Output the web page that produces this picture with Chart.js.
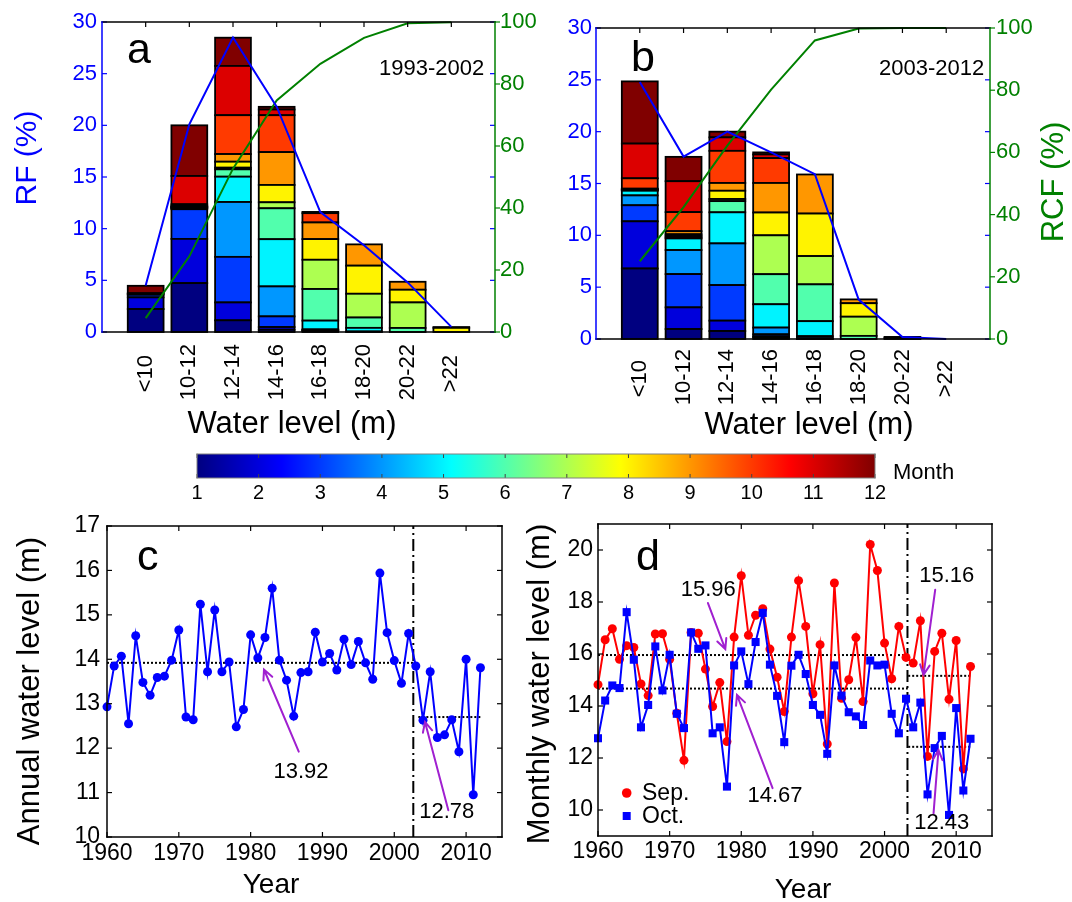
<!DOCTYPE html>
<html><head><meta charset="utf-8">
<script src="https://cdn.jsdelivr.net/npm/chart.js@4.4.1/dist/chart.umd.min.js"></script>
<style>
html,body{margin:0;padding:0;background:#fff;}
body{width:1072px;height:902px;position:relative;overflow:hidden;}
canvas{position:absolute;}
</style></head><body>
<canvas id="cA" width="548" height="450" style="left:0px;top:0px"></canvas>
<canvas id="cB" width="524" height="450" style="left:548px;top:0px"></canvas>
<canvas id="cC" width="515" height="397" style="left:0px;top:505px"></canvas>
<canvas id="cD" width="557" height="397" style="left:515px;top:505px"></canvas>
<canvas id="cCB" width="830" height="70" style="left:150px;top:440px"></canvas>
<script>
// ================= DATA =================
const waterBins = ['<10','10-12','12-14','14-16','16-18','18-20','20-22','>22'];
const rfTicks = [0,5,10,15,20,25,30];
const rcfTicks = [0,20,40,60,80,100];
const monthTicks = [1,2,3,4,5,6,7,8,9,10,11,12];
const monthRange = [1,12];

// Panel a: 1993-2002, RF (%) contribution of each month per water-level bin
const aJan = [2.22, 4.73, 1.13, 0.22, 0.10, 0,    0,    0];
const aFeb = [1.13, 4.28, 1.73, 0.26, 0.05, 0,    0,    0];
const aMar = [0.25, 2.87, 4.41, 1.03, 0.05, 0,    0,    0];
const aApr = [0.10, 0.08, 5.31, 2.90, 0.05, 0.05, 0,    0];
const aMay = [0,    0.05, 2.45, 4.57, 0.85, 0.35, 0,    0];
const aJun = [0,    0.05, 0.71, 2.99, 3.06, 1.00, 0.39, 0];
const aJul = [0,    0.05, 0.16, 0.58, 2.83, 2.30, 2.47, 0];
const aAug = [0,    0.05, 0.58, 1.68, 2.00, 2.72, 1.23, 0.40];
const aSep = [0,    0.05, 0.74, 3.18, 1.61, 2.06, 0.77, 0.08];
const aOct = [0,    0.15, 3.76, 3.57, 0.90, 0,    0,    0];
const aNov = [0.05, 2.74, 4.77, 0.55, 0.12, 0,    0,    0];
const aDec = [0.72, 4.90, 2.73, 0.26, 0,    0,    0,    0];
const rfA  = [4.5, 20.1, 28.5, 21.8, 11.6, 8.4, 4.8, 0.5];
const rcfA = [4.5, 24.4, 52.7, 74.7, 86.5, 94.9, 99.6, 99.9];

// Panel b: 2003-2012
const bJan = [6.80, 0.96, 0.77, 0.15, 0.02, 0,    0,    0];
const bFeb = [4.55, 2.09, 1.00, 0.10, 0,    0,    0,    0];
const bMar = [1.55, 3.21, 3.43, 0.20, 0.05, 0,    0,    0];
const bApr = [0.95, 2.32, 4.02, 0.65, 0.20, 0,    0,    0];
const bMay = [0.45, 1.12, 3.00, 2.25, 1.45, 0,    0,    0];
const bJun = [0.05, 0.10, 1.08, 2.90, 3.55, 0.30, 0,    0];
const bJul = [0.05, 0.15, 0.20, 3.75, 2.73, 1.85, 0,    0];
const bAug = [0.05, 0.15, 0.80, 2.20, 4.10, 1.30, 0.10, 0];
const bSep = [0.05, 0.30, 0.75, 2.85, 3.77, 0.37, 0.10, 0];
const bOct = [1.00, 1.84, 3.10, 2.40, 0,    0,    0,    0];
const bNov = [3.35, 2.98, 1.30, 0.35, 0,    0,    0,    0];
const bDec = [6.00, 2.35, 0.55, 0.20, 0,    0,    0,    0];
const rfB  = [24.8, 17.6, 20.0, 18.0, 15.9, 3.8, 0.2, 0.0];
const rcfB = [25.0, 42.4, 62.2, 80.2, 96.0, 99.8, 100, 100];

// Panels c, d
const years = [1960,1961,1962,1963,1964,1965,1966,1967,1968,1969,
               1970,1971,1972,1973,1974,1975,1976,1977,1978,1979,
               1980,1981,1982,1983,1984,1985,1986,1987,1988,1989,
               1990,1991,1992,1993,1994,1995,1996,1997,1998,1999,
               2000,2001,2002,2003,2004,2005,2006,2007,2008,2009,
               2010,2011,2012];
const annualLevel = [12.93,13.85,14.07,12.55,14.53,13.48,13.19,13.59,13.62,13.98,
                     14.66,12.70,12.64,15.24,13.72,15.11,13.72,13.94,12.48,12.87,
                     14.55,14.03,14.49,15.60,13.98,13.53,12.72,13.70,13.72,14.61,
                     13.94,14.13,13.76,14.45,13.88,14.40,13.92,13.55,15.94,14.60,
                     13.97,13.46,14.58,13.85,12.63,13.72,12.24,12.30,12.64,11.92,
                     14.00,10.95,13.81];
const sepLevel = [14.82,16.55,16.97,15.80,16.32,16.25,14.85,14.40,16.77,16.78,
                  15.80,13.72,11.91,16.83,16.80,15.42,13.98,14.90,12.63,16.65,
                  19.01,16.72,17.49,17.74,16.19,15.11,13.79,16.65,18.82,17.06,
                  14.47,16.36,12.54,18.73,14.30,15.01,16.63,14.17,20.21,19.21,
                  16.42,15.05,17.06,15.87,15.65,17.28,12.06,16.10,16.80,14.26,
                  16.52,11.58,15.52];
const octLevel = [12.76,14.21,14.79,14.69,17.61,15.78,13.18,14.04,16.29,14.60,
                  15.97,13.70,13.15,16.83,16.20,16.33,12.95,13.18,10.90,15.56,
                  16.10,14.84,16.46,17.58,15.59,14.39,12.61,15.55,15.97,15.23,
                  14.04,13.66,12.16,15.56,14.40,13.76,13.60,13.27,15.75,15.56,
                  15.59,13.70,12.95,14.28,13.18,14.13,10.60,12.38,12.85,9.81,
                  13.92,10.75,12.74];
const yearTicks = [1960,1970,1980,1990,2000,2010];
const annualTicks = [10,11,12,13,14,15,16,17];
const monthlyTicks = [10,12,14,16,18,20];
const meanAnnual = [13.92, 12.70];        // drawn levels
const meanAnnualLabels = ['13.92','12.78'];
const meanSep = [15.96, 15.16];
const meanOct = [14.67, 12.43];
const breakC = 2002.65, breakD = 2003.2;
const spanC = [[1960, 2003.0], [2003.35, 2012]];
const spanD = [[1960, 2003.25], [2003.3, 2012]];

// ================= STYLE =================
const FONT = "'Liberation Sans', Arial, Helvetica, sans-serif";
Chart.defaults.font.family = FONT;
Chart.defaults.color = '#000';
Chart.defaults.animation = false;
const BLUE = '#0000ff', GREEN = '#008000', PURPLE = '#a020d0';
const monthColors = ['#000080','#0000dc','#003aff','#0097ff','#00f3ff','#51ffad',
                     '#adff51','#fff300','#ff9700','#ff3a00','#dc0000','#800000'];
const jetStops = [[0,'#000080'],[0.125,'#0000ff'],[0.375,'#00ffff'],[0.625,'#ffff00'],[0.875,'#ff0000'],[1,'#800000']];

function decor(cfg){
  return {id:'decor',
  afterDatasetDraw(chart, args){
    if (!cfg.outline || args.meta.type !== 'bar') return;
    const ds = chart.data.datasets[args.index];
    const c = chart.ctx;
    c.save(); c.strokeStyle = '#000'; c.lineWidth = cfg.outline;
    args.meta.data.forEach((el,i)=>{
      if (ds.data[i].y == null) return;
      const p = el.getProps(['x','y','base','width'], true);
      c.strokeRect(p.x - p.width/2, Math.min(p.y,p.base), p.width, Math.abs(p.base-p.y));
    });
    c.restore();
  },
  afterDraw(chart){
    const c = chart.ctx, ca = chart.chartArea;
    c.save();
    (cfg.ticks||[]).forEach(t=>{
      const s = chart.scales[t.scale];
      c.strokeStyle = t.color; c.lineWidth = t.width||1.2;
      s.ticks.forEach(tk=>{
        const p = s.getPixelForValue(tk.value);
        c.beginPath();
        if (t.side==='top'){ c.moveTo(p,ca.top); c.lineTo(p,ca.top+t.len); }
        else if (t.side==='bottom'){ c.moveTo(p,ca.bottom); c.lineTo(p,ca.bottom-t.len); }
        else if (t.side==='left'){ c.moveTo(ca.left,p); c.lineTo(ca.left+t.len,p); }
        else { c.moveTo(ca.right,p); c.lineTo(ca.right-t.len,p); }
        c.stroke();
      });
    });
    (cfg.edges||[]).forEach(e=>{
      c.strokeStyle = e.color; c.lineWidth = e.width; c.beginPath();
      const h = e.width/2;
      if (e.side==='top'){ c.moveTo(ca.left-h,ca.top); c.lineTo(ca.right+h,ca.top); }
      else if (e.side==='bottom'){ c.moveTo(ca.left-h,ca.bottom); c.lineTo(ca.right+h,ca.bottom); }
      else if (e.side==='left'){ c.moveTo(ca.left,ca.top-h); c.lineTo(ca.left,ca.bottom+h); }
      else { c.moveTo(ca.right,ca.top-h); c.lineTo(ca.right,ca.bottom+h); }
      c.stroke();
    });
    (cfg.arrows||[]).forEach(a=>{
      const xs = chart.scales.x, ys = chart.scales.y;
      const x1 = xs.getPixelForValue(a[0]), y1 = ys.getPixelForValue(a[1]);
      const x2 = xs.getPixelForValue(a[2]), y2 = ys.getPixelForValue(a[3]);
      c.strokeStyle = PURPLE; c.lineWidth = 2; c.lineCap = 'round';
      c.beginPath(); c.moveTo(x1,y1); c.lineTo(x2,y2);
      const ang = Math.atan2(y2-y1, x2-x1), L = 11, da = 0.45;
      c.moveTo(x2 - L*Math.cos(ang-da), y2 - L*Math.sin(ang-da));
      c.lineTo(x2,y2);
      c.lineTo(x2 - L*Math.cos(ang+da), y2 - L*Math.sin(ang+da));
      c.stroke();
    });
    (cfg.markers||[]).forEach(m=>{
      c.fillStyle = m.color; c.beginPath();
      if (m.shape==='circle'){ c.arc(m.x,m.y,m.r,0,Math.PI*2); }
      else { c.rect(m.x-m.r,m.y-m.r,2*m.r,2*m.r); }
      c.fill();
    });
    (cfg.texts||[]).forEach(t=>{
      c.save();
      c.translate(t.x,t.y);
      if (t.rot) c.rotate(t.rot);
      c.font = (t.size||22)+'px '+FONT;
      c.fillStyle = t.color||'#000';
      c.textAlign = t.align||'center';
      c.textBaseline = t.baseline||'middle';
      c.fillText(t.text,0,0);
      c.restore();
    });
    c.restore();
  }};
}

const baseOpts = {responsive:false, devicePixelRatio:1, events:[],
  plugins:{legend:{display:false}, tooltip:{enabled:false}}};

function monthDatasets(months){
  return months.map((vals,k)=>({
    type:'bar', label:'Month '+(k+1),
    data: vals.map((v,i)=>({x:i+1, y: v>0 ? v : null})),
    backgroundColor: monthColors[k], borderWidth:0,
    barPercentage:0.82, categoryPercentage:1, stack:'months', yAxisID:'y', order:2
  }));
}
function lineDatasets(rf, rcf){
  return [
    {type:'line', label:'RF', data: rf.map((v,i)=>({x:i+1,y:v})), borderColor:BLUE, borderWidth:2,
     pointRadius:0, stack:'rf', yAxisID:'y', order:0, clip:false},
    {type:'line', label:'RCF', data: rcf.map((v,i)=>({x:i+1,y:v})), borderColor:GREEN, borderWidth:2,
     pointRadius:0, yAxisID:'y2', order:0, clip:false}
  ];
}
function histScales(o){
  return {
    x:{type:'linear', min:0, max:9, offset:false,
       afterBuildTicks:s=>{ s.ticks = waterBins.map((b,i)=>({value:i+1})); },
       afterFit:s=>{ s.height = o.xh; },
       grid:{display:false, drawTicks:false}, border:{display:false},
       ticks:{autoSkip:false, minRotation:90, maxRotation:90, padding:o.xpad, font:{size:22}, color:'#000',
              callback:(v)=>{ const l = waterBins[Math.round(v)-1] || ''; return l.length<5 ? l+'\u2002' : l; }}},
    y:{type:'linear', position:'left', min:0, max:30,
       afterBuildTicks:s=>{ s.ticks = rfTicks.map(v=>({value:v})); },
       afterFit:s=>{ s.width = o.yw; },
       grid:{display:false, drawTicks:false}, border:{display:false},
       ticks:{color:BLUE, padding:o.ypad, font:{size:22}}},
    y2:{type:'linear', position:'right', min:0, max:100,
       afterBuildTicks:s=>{ s.ticks = rcfTicks.map(v=>({value:v})); },
       afterFit:s=>{ s.width = o.y2w; },
       grid:{display:false, drawTicks:false}, border:{display:false},
       ticks:{color:GREEN, padding:o.y2pad, font:{size:22}}}
  };
}
const histEdges = [{side:'bottom',color:'#000',width:1.5},{side:'top',color:'#000',width:1.5},
                   {side:'left',color:BLUE,width:1.5},{side:'right',color:GREEN,width:1.5}];
const histTicks = [{scale:'x',side:'top',len:5,color:'#000'},{scale:'y',side:'left',len:5,color:BLUE},
                   {scale:'y',side:'right',len:5,color:BLUE},{scale:'y2',side:'right',len:-5,color:GREEN}];

// ---------- Panel a ----------
new Chart(document.getElementById('cA'), {
  type:'bar',
  data:{datasets:[...lineDatasets(rfA, rcfA),
    ...monthDatasets([aJan,aFeb,aMar,aApr,aMay,aJun,aJul,aAug,aSep,aOct,aNov,aDec])]},
  options:{...baseOpts, layout:{padding:{top:22,left:0,right:0,bottom:0}},
    scales: histScales({xh:118, xpad:12, yw:102, ypad:5, y2w:53, y2pad:5})},
  plugins:[decor({outline:1.8, edges:histEdges, ticks:histTicks, texts:[
    {text:'a', x:127, y:63, size:43, align:'left', baseline:'alphabetic'},
    {text:'1993-2002', x:431.7, y:69.3, size:22},
    {text:'RF (%)', x:28, y:158, size:30, color:BLUE, rot:-Math.PI/2},
    {text:'Water level (m)', x:292, y:424, size:31}
  ]})]
});

// ---------- Panel b ----------
new Chart(document.getElementById('cB'), {
  type:'bar',
  data:{datasets:[...lineDatasets(rfB, rcfB),
    ...monthDatasets([bJan,bFeb,bMar,bApr,bMay,bJun,bJul,bAug,bSep,bOct,bNov,bDec])]},
  options:{...baseOpts, layout:{padding:{top:28,left:0,right:0,bottom:0}},
    scales: histScales({xh:111, xpad:10, yw:48, ypad:4, y2w:82, y2pad:6})},
  plugins:[decor({outline:1.8, edges:histEdges, ticks:histTicks, texts:[
    {text:'b', x:83, y:70.7, size:43, align:'left', baseline:'alphabetic'},
    {text:'2003-2012', x:383.7, y:69.3, size:22},
    {text:'RCF (%)', x:506, y:182, size:31, color:GREEN, rot:-Math.PI/2},
    {text:'Water level (m)', x:261, y:425, size:31}
  ]})]
});

// ---------- time-series helpers ----------
function tsScales(o){
  return {
    x:{type:'linear', min:1960, max:2015,
       afterBuildTicks:s=>{ s.ticks = yearTicks.map(v=>({value:v})); },
       afterFit:s=>{ s.height = o.xh; },
       grid:{display:false, drawTicks:false}, border:{display:false},
       ticks:{padding:o.xpad, font:{size:23}, callback:v=>String(v)}},
    y:{type:'linear', min:o.ymin, max:o.ymax,
       afterBuildTicks:s=>{ s.ticks = o.yticks.map(v=>({value:v})); },
       afterFit:s=>{ s.width = o.yw; },
       grid:{display:false, drawTicks:false}, border:{display:false},
       ticks:{padding:o.ypad, font:{size:23}, callback:v=>String(v)}}
  };
}
const boxEdges = ['top','bottom','left','right'].map(s=>({side:s,color:'#000',width:1.5}));
const boxTicks = [{scale:'x',side:'top',len:5,color:'#000'},{scale:'x',side:'bottom',len:5,color:'#000'},
                  {scale:'y',side:'left',len:5,color:'#000'},{scale:'y',side:'right',len:5,color:'#000'}];
function hLine(label, span, level){
  return {label, data:[{x:span[0],y:level},{x:span[1],y:level}], borderColor:'#000', borderWidth:2,
          borderDash:[2,2], pointRadius:0, order:3, clip:false};
}
function vLine(label, xv, ymin, ymax){
  return {label, data:[{x:xv,y:ymin},{x:xv,y:ymax}], borderColor:'#000', borderWidth:2,
          borderDash:[12,4,2,4], pointRadius:0, order:3};
}

// ---------- Panel c ----------
new Chart(document.getElementById('cC'), {
  type:'line',
  data:{datasets:[
    {label:'Annual water level', data: years.map((y,i)=>({x:y, y:annualLevel[i]})),
     borderColor:BLUE, backgroundColor:BLUE, borderWidth:2, pointRadius:4.5, pointBorderWidth:0,
     pointBackgroundColor:BLUE, order:0, clip:false},
    hLine('Mean 1960-2002', spanC[0], meanAnnual[0]),
    hLine('Mean 2003-2012', spanC[1], meanAnnual[1]),
    vLine('Break', breakC, 10, 17)
  ]},
  options:{...baseOpts, layout:{padding:{top:21,left:0,right:13,bottom:0}},
    scales: tsScales({xh:65, xpad:3, ymin:10, ymax:17, yticks:annualTicks, yw:107, ypad:7})},
  plugins:[decor({edges:boxEdges, ticks:boxTicks,
    arrows:[[1986.7,11.92,1981.86,13.77],[2007.53,10.6,2004.28,12.59]],
    texts:[
      {text:'c', x:137, y:65, size:43, align:'left', baseline:'alphabetic'},
      {text:meanAnnualLabels[0], x:301, y:267.3, size:22},
      {text:meanAnnualLabels[1], x:446.7, y:306.7, size:22},
      {text:'Annual water level (m)', x:30, y:186, size:31, rot:-Math.PI/2},
      {text:'Year', x:271, y:380, size:28}
    ]})]
});

// ---------- Panel d ----------
new Chart(document.getElementById('cD'), {
  type:'line',
  data:{datasets:[
    {label:'Oct.', data: years.map((y,i)=>({x:y, y:octLevel[i]})),
     borderColor:BLUE, backgroundColor:BLUE, borderWidth:2, pointStyle:'rect', pointRadius:5.7,
     pointBorderWidth:0, pointBackgroundColor:BLUE, order:0, clip:false},
    {label:'Sep.', data: years.map((y,i)=>({x:y, y:sepLevel[i]})),
     borderColor:'#ff0000', backgroundColor:'#ff0000', borderWidth:2, pointRadius:4.5,
     pointBorderWidth:0, pointBackgroundColor:'#ff0000', order:1, clip:false},
    hLine('Sep. mean 1960-2002', spanD[0], meanSep[0]),
    hLine('Oct. mean 1960-2002', spanD[0], meanOct[0]),
    hLine('Sep. mean 2003-2012', spanD[1], meanSep[1]),
    hLine('Oct. mean 2003-2012', spanD[1], meanOct[1]),
    vLine('Break', breakD, 9, 21)
  ]},
  options:{...baseOpts, layout:{padding:{top:19,left:0,right:80,bottom:0}},
    scales: tsScales({xh:66, xpad:2, ymin:9, ymax:21, yticks:monthlyTicks, yw:83, ypad:5})},
  plugins:[decor({edges:boxEdges, ticks:boxTicks,
    arrows:[[1975.35,17.96,1977.77,16.19],[1984.37,10.84,1979.4,14.43],
            [2007.07,18.47,2005.44,15.2],[2006.84,9.87,2007.53,12.31]],
    markers:[{shape:'circle',x:111.7,y:288,r:4.8,color:'#ff0000'},{shape:'rect',x:111.7,y:311,r:4,color:BLUE}],
    texts:[
      {text:'d', x:121, y:65, size:43, align:'left', baseline:'alphabetic'},
      {text:meanSep[0].toFixed(2), x:193.3, y:85, size:22},
      {text:meanOct[0].toFixed(2), x:260, y:291, size:22},
      {text:meanSep[1].toFixed(2), x:431.7, y:71, size:22},
      {text:meanOct[1].toFixed(2), x:426.7, y:318.3, size:22},
      {text:'Sep.', x:127, y:289, size:23, align:'left'},
      {text:'Oct.', x:127, y:312, size:23, align:'left'},
      {text:'Monthly water level (m)', x:25, y:179, size:31, rot:-Math.PI/2},
      {text:'Year', x:288, y:385, size:28}
    ]})]
});

// ---------- Colour bar ----------
function jetGradient(chart){
  const ca = chart.chartArea;
  if (!ca) return 'transparent';
  const g = chart.ctx.createLinearGradient(ca.left,0,ca.right,0);
  jetStops.forEach(([t,c])=>g.addColorStop(t,c));
  return g;
}
new Chart(document.getElementById('cCB'), {
  type:'bar',
  data:{labels:['Month'], datasets:[{label:'Month', data:[monthRange],
    backgroundColor: ctx=>jetGradient(ctx.chart), borderWidth:0, barPercentage:1, categoryPercentage:1}]},
  options:{...baseOpts, indexAxis:'y', layout:{padding:{top:14,left:47,right:105,bottom:0}},
    scales:{
      x:{type:'linear', min:monthRange[0], max:monthRange[1],
         afterBuildTicks:s=>{ s.ticks = monthTicks.map(v=>({value:v})); },
         afterFit:s=>{ s.height = 32; },
         grid:{display:false, drawTicks:false}, border:{display:false},
         ticks:{padding:3, font:{size:20}, callback:v=>String(v)}},
      y:{display:false}
    }},
  plugins:[decor({
    ticks:[{scale:'x',side:'top',len:4,color:'#444',width:1},{scale:'x',side:'bottom',len:4,color:'#444',width:1}],
    edges:['top','bottom','left','right'].map(s=>({side:s,color:'#808080',width:1})),
    texts:[{text:'Month', x:743, y:33, size:22, align:'left'}]
  })]
});
</script>
</body></html>
